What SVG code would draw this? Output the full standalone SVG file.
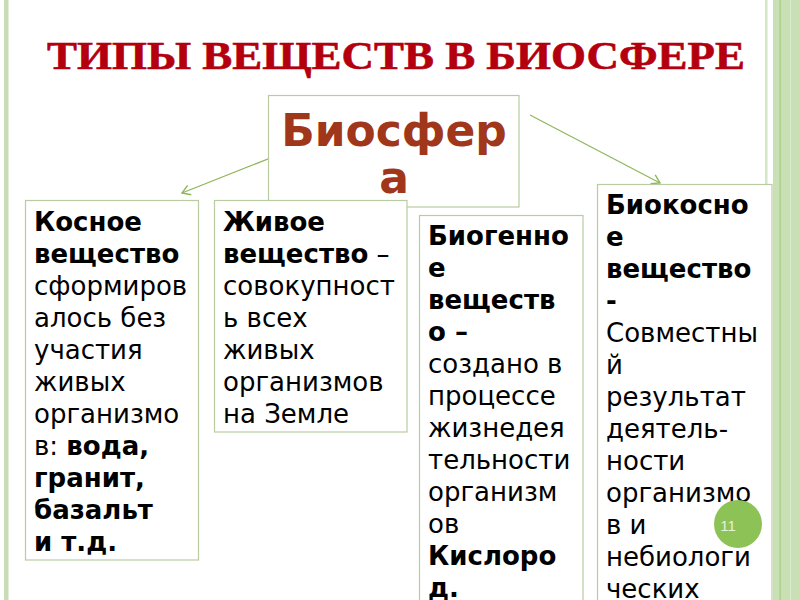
<svg xmlns="http://www.w3.org/2000/svg" width="800" height="600" viewBox="0 0 800 600">
<defs>
<style>
.box{fill:#ffffff;stroke:#b9cba0;stroke-width:1.2}
.t{font-family:"DejaVu Sans","Noto Sans",sans-serif;font-size:26px;fill:#000}
.b{font-weight:bold}
.conn{stroke:#8fb65a;stroke-width:1.2;fill:none}
</style>
<marker id="ah" markerUnits="userSpaceOnUse" markerWidth="20" markerHeight="20" viewBox="-10 -10 20 20" refX="0" refY="0" orient="auto">
<path d="M-8,-5 L0,0 L-8,5" fill="none" stroke="#8fb65a" stroke-width="1.4"/>
</marker>
</defs>
<rect width="800" height="600" fill="#ffffff"/>
<g id="frame">
<rect x="4" y="0" width="4.5" height="600" fill="#c8dcb6"/>
<rect x="765" y="0" width="2.5" height="600" fill="#d4e6c4"/>
<rect x="773" y="0" width="27" height="600" fill="#c9e0b4"/>
<rect x="779.5" y="0" width="1.2" height="600" fill="#a6c986"/>
<rect x="790" y="0" width="1" height="600" fill="#d8ead0"/>
</g>
<text id="title" x="47" y="69" textLength="698" lengthAdjust="spacingAndGlyphs" font-family="Liberation Serif, serif" font-weight="bold" font-size="40" fill="#b4000e" stroke="#b4000e" stroke-width="0.6">ТИПЫ ВЕЩЕСТВ В БИОСФЕРЕ</text>
<g id="connectors">
<line class="conn" x1="278" y1="155" x2="182" y2="193" marker-end="url(#ah)"/>
<line class="conn" x1="350" y1="153" x2="350" y2="193" marker-end="url(#ah)"/>
<line class="conn" x1="468" y1="160" x2="494" y2="205" marker-end="url(#ah)"/>
<line class="conn" x1="530" y1="115" x2="660" y2="183" marker-end="url(#ah)"/>
</g>
<g id="node-biosfera">
<rect class="box" x="268.5" y="95.5" width="250.5" height="111.5"/>
<text font-family="DejaVu Sans, sans-serif" font-weight="bold" font-size="44" fill="#a0361a" text-anchor="middle"><tspan x="394" y="146">Биосфер</tspan><tspan x="394" y="193">а</tspan></text>
</g>
<g id="node-kosnoe">
<rect class="box" x="25.5" y="200.5" width="173" height="359.5"/>
<text class="t">
<tspan x="34" y="231" class="b">Косное</tspan>
<tspan x="34" y="263" class="b">вещество</tspan>
<tspan x="34" y="295">сформиров</tspan>
<tspan x="34" y="327">алось без</tspan>
<tspan x="34" y="359">участия</tspan>
<tspan x="34" y="391">живых</tspan>
<tspan x="34" y="423">организмо</tspan>
<tspan x="34" y="455">в: <tspan class="b">вода,</tspan></tspan>
<tspan x="34" y="487" class="b">гранит,</tspan>
<tspan x="34" y="519" class="b">базальт</tspan>
<tspan x="34" y="551" class="b">и т.д.</tspan>
</text>
</g>
<g id="node-zhivoe">
<rect class="box" x="214.5" y="200.5" width="192.5" height="231.5"/>
<text class="t">
<tspan x="223" y="231" class="b">Живое</tspan>
<tspan x="223" y="263"><tspan class="b">вещество</tspan> –</tspan>
<tspan x="223" y="295">совокупност</tspan>
<tspan x="223" y="327">ь всех</tspan>
<tspan x="223" y="359">живых</tspan>
<tspan x="223" y="391">организмов</tspan>
<tspan x="223" y="423">на Земле</tspan>
</text>
</g>
<g id="node-biogennoe">
<rect class="box" x="419.5" y="215.5" width="163.5" height="400"/>
<text class="t">
<tspan x="428" y="245" class="b">Биогенно</tspan>
<tspan x="428" y="277" class="b">е</tspan>
<tspan x="428" y="309" class="b">веществ</tspan>
<tspan x="428" y="341" class="b">о –</tspan>
<tspan x="428" y="373">создано в</tspan>
<tspan x="428" y="405">процессе</tspan>
<tspan x="428" y="437">жизнедея</tspan>
<tspan x="428" y="469">тельности</tspan>
<tspan x="428" y="501">организм</tspan>
<tspan x="428" y="533">ов</tspan>
<tspan x="428" y="565" class="b">Кислоро</tspan>
<tspan x="428" y="597" class="b">д.</tspan>
</text>
</g>
<g id="node-biokosnoe">
<rect class="box" x="597.5" y="184.5" width="174.5" height="430"/>
<text class="t">
<tspan x="606" y="214" class="b">Биокосно</tspan>
<tspan x="606" y="246" class="b">е</tspan>
<tspan x="606" y="278" class="b">вещество</tspan>
<tspan x="606" y="310" class="b">-</tspan>
<tspan x="606" y="342">Совместны</tspan>
<tspan x="606" y="374">й</tspan>
<tspan x="606" y="406">результат</tspan>
<tspan x="606" y="438">деятель-</tspan>
<tspan x="606" y="470">ности</tspan>
<tspan x="606" y="502">организмо</tspan>
<tspan x="606" y="534">в и</tspan>
<tspan x="606" y="566">небиологи</tspan>
<tspan x="606" y="598">ческих</tspan>
</text>
</g>
<g id="page-number">
<circle cx="738" cy="524" r="24" fill="#8dc257"/>
<text x="728" y="531" text-anchor="middle" font-family="Liberation Sans, sans-serif" font-size="15" fill="#e4f2d6">11</text>
</g>
</svg>
